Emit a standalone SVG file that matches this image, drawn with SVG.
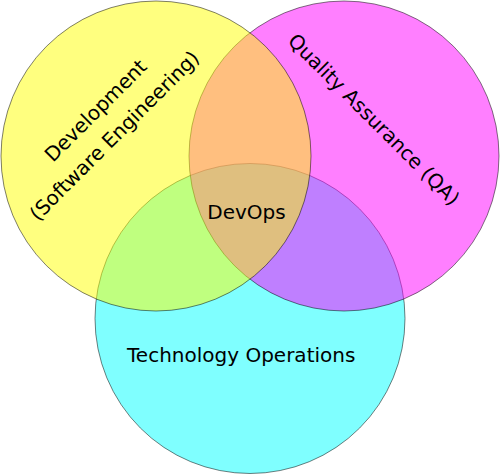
<svg xmlns="http://www.w3.org/2000/svg" width="500" height="475" viewBox="0 0 500 475">
  <style>
    .c { fill-opacity: 0.5; stroke: #000; stroke-opacity: 0.5; stroke-width: 1; }
    .t { font-family: "DejaVu Sans", "Liberation Sans", sans-serif; font-size: 20px; fill: #000; text-anchor: middle; }
  </style>
  <rect width="500" height="475" fill="#fff"/>
  <g id="ops">
    <circle class="c" cx="250" cy="318.5" r="155" fill="#00ffff"/>
    <text class="t" x="241.2" y="362.3">Technology Operations</text>
  </g>
  <g id="qa">
    <circle class="c" cx="344" cy="156" r="155" fill="#ff00ff"/>
    <text class="t" transform="translate(369,124.4) rotate(45)" x="0" y="0">Quality Assurance (QA)</text>
  </g>
  <g id="dev">
    <circle class="c" cx="156" cy="156" r="155" fill="#ffff00"/>
    <text class="t" transform="translate(100.5,115.5) rotate(-45)"><tspan x="0" y="0">Development</tspan><tspan x="-4.5" y="31">(Software Engineering)</tspan></text>
  </g>
  <g id="devops">
    <text class="t" x="246.5" y="218.5">DevOps</text>
  </g>
  <g id="connectors"></g>
</svg>
